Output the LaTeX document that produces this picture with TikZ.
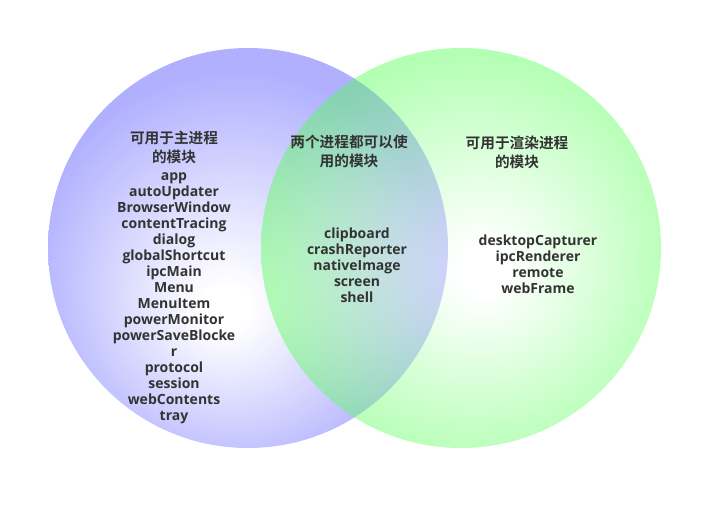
\documentclass[tikz,border=0pt]{standalone}
\usepackage{fontspec}
\setmainfont{Open Sans}
\newfontfamily\cjk{Noto Sans CJK SC}[BoldFont={* Bold}]
\usetikzlibrary{positioning}
\definecolor{mainblue}{HTML}{B0B0FF}
\definecolor{rendergreen}{HTML}{53FF53}
\definecolor{ink}{HTML}{333333}
\pgfdeclareradialshading{mainglow}{\pgfpoint{-3bp}{-8bp}}{color(0bp)=(white); color(3bp)=(white); color(26bp)=(mainblue); color(50bp)=(mainblue)}
\pgfdeclareradialshading{renderglow}{\pgfpoint{3bp}{-3bp}}{color(0bp)=(white); color(3bp)=(white); color(26bp)=(rendergreen); color(50bp)=(rendergreen)}

\begin{document}
\begin{tikzpicture}[
    x=0.75pt,y=-0.75pt,
    head/.style={text=ink,align=center,font=\cjk\bfseries\fontsize{11}{14.25}\selectfont},
    list/.style={text=ink,align=center,font=\bfseries\fontsize{10.5}{12}\selectfont}
  ]
    \useasboundingbox (0,0) rectangle (723,511);

    % Process circles
    \shade[shading=mainglow] (248,248) circle [radius=200];
    \shade[shading=renderglow,fill opacity=0.44] (461,248) circle [radius=200];

    % Main process
    \node[head] (mainhead) at (174,147) {可用于主进程\\的模块};
    \node[list] (mainlist) at (174,298) {app\\autoUpdater\\BrowserWindow\\contentTracing\\dialog\\globalShortcut\\ipcMain\\Menu\\MenuItem\\powerMonitor\\powerSaveBlocke\\r\\protocol\\session\\webContents\\tray};

    % Both processes
    \node[head] (bothhead) at (349,151) {两个进程都可以使\\用的模块};
    \node[list] (bothlist) at (357,265) {clipboard\\crashReporter\\nativeImage\\screen\\shell};

    % Renderer process
    \node[head] (renderhead) at (517,152) {可用于渲染进程\\的模块};
    \node[list] (renderlist) at (538,264) {desktopCapturer\\ipcRenderer\\remote\\webFrame};
  \end{tikzpicture}
\end{document}
